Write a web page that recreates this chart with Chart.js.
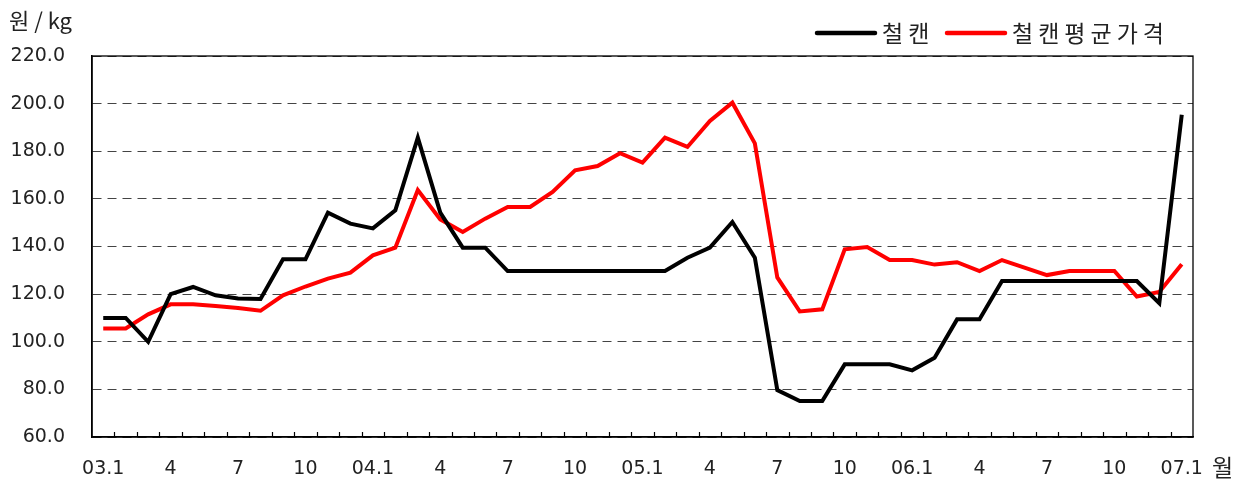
<!DOCTYPE html>
<html>
<head>
<meta charset="utf-8">
<script src="https://cdn.jsdelivr.net/npm/chart.js@4"></script>
<style>
  html, body { margin: 0; padding: 0; background: #fff; }
  #wrap { width: 1245px; height: 483px; }
</style>
</head>
<body>
<div id="wrap"><canvas id="canChart" width="1245" height="483"></canvas></div>
<script>
// months 2003.1 ~ 2007.1
const months = [
  '03.1','03.2','03.3','03.4','03.5','03.6','03.7','03.8','03.9','03.10','03.11','03.12',
  '04.1','04.2','04.3','04.4','04.5','04.6','04.7','04.8','04.9','04.10','04.11','04.12',
  '05.1','05.2','05.3','05.4','05.5','05.6','05.7','05.8','05.9','05.10','05.11','05.12',
  '06.1','06.2','06.3','06.4','06.5','06.6','06.7','06.8','06.9','06.10','06.11','06.12',
  '07.1'
];
const tickLabels = [
  '03.1','','','4','','','7','','','10','','',
  '04.1','','','4','','','7','','','10','','',
  '05.1','','','4','','','7','','','10','','',
  '06.1','','','4','','','7','','','10','','',
  '07.1'
];
const canPrice = [
  110, 110, 100, 120, 123, 119.5, 118.2, 118, 134.6, 134.6, 154.2, 149.6,
  147.6, 155.2, 185.7, 154.2, 139.5, 139.5, 129.7, 129.7, 129.7, 129.7, 129.7, 129.7,
  129.7, 129.7, 135.3, 139.5, 150.3, 135.3, 79.7, 75.1, 75.1, 90.5, 90.5, 90.5,
  88, 93.3, 109.4, 109.4, 125.5, 125.5, 125.5, 125.5, 125.5, 125.5, 125.5, 116.2,
  195.3
];
const canAvgPrice = [
  105.6, 105.6, 111.5, 115.7, 115.7, 115, 114.2, 113, 119.5, 123.2, 126.5, 129,
  136.3, 139.5, 163.7, 151.4, 146.1, 151.7, 156.6, 156.6, 162.9, 172, 173.8, 179.2,
  175.2, 185.7, 181.8, 192.7, 200.4, 183.3, 127, 112.7, 113.6, 138.8, 139.8, 134.3,
  134.3, 132.4, 133.4, 129.7, 134.3, 131.1, 128, 129.7, 129.7, 129.7, 119, 120.9,
  132.5
];
const yTicks = [60, 80, 100, 120, 140, 160, 180, 200, 220];

const KFONT = "'Noto Sans CJK KR', sans-serif";
const NFONT = "'DejaVu Sans', sans-serif";
const TXT = '#222';

// box around plot, inner x ticks, legend and unit labels
const framePlugin = {
  id: 'frame',
  afterDraw(chart) {
    const { ctx, chartArea: a, scales } = chart;
    const xs = scales.x;
    ctx.save();
    ctx.strokeStyle = '#000';
    ctx.lineWidth = 1.3;
    ctx.strokeRect(a.left, a.top, a.right - a.left, a.bottom - a.top);
    // tick marks between months, pointing up
    const step = xs.getPixelForValue(1) - xs.getPixelForValue(0);
    ctx.lineWidth = 1.2;
    ctx.beginPath();
    for (let i = 1; i < months.length; i++) {
      const px = Math.round(xs.getPixelForValue(i) - step / 2) + 0.5;
      ctx.moveTo(px, a.bottom);
      ctx.lineTo(px, a.bottom - 5);
    }
    ctx.stroke();

    // legend
    ctx.lineCap = 'round';
    ctx.lineWidth = 4.5;
    ctx.font = '23px ' + KFONT;
    ctx.letterSpacing = '5px';
    ctx.textBaseline = 'middle';
    ctx.textAlign = 'left';
    const items = [
      { x: 817, ds: chart.data.datasets[0] },
      { x: 947, ds: chart.data.datasets[1] }
    ];
    items.forEach(it => {
      ctx.strokeStyle = it.ds.borderColor;
      ctx.beginPath();
      ctx.moveTo(it.x, 33);
      ctx.lineTo(it.x + 58, 33);
      ctx.stroke();
      ctx.fillStyle = TXT;
      ctx.fillText(it.ds.label, it.x + 65, 33);
    });

    ctx.letterSpacing = '0px';
    ctx.fillStyle = TXT;
    ctx.font = '22px ' + KFONT;
    ctx.fillText('원 / kg', 9, 21);
    ctx.font = '23px ' + KFONT;
    ctx.fillText('월', 1212, 467);
    ctx.restore();
  }
};

new Chart(document.getElementById('canChart'), {
  type: 'line',
  data: {
    labels: months,
    datasets: [
      {
        label: '철캔',
        data: canPrice,
        borderColor: '#000',
        backgroundColor: '#000',
        borderWidth: 4,
        pointRadius: 0,
        tension: 0
      },
      {
        label: '철캔평균가격',
        data: canAvgPrice,
        borderColor: '#ff0000',
        backgroundColor: '#ff0000',
        borderWidth: 4,
        pointRadius: 0,
        tension: 0
      }
    ]
  },
  options: {
    responsive: false,
    animation: false,
    layout: { padding: { left: 0, right: 52, top: 56, bottom: 0 } },
    plugins: {
      legend: { display: false },
      tooltip: { enabled: false }
    },
    scales: {
      x: {
        offset: true,
        grid: { display: false, drawTicks: false },
        border: { display: true, color: '#000', width: 1.5 },
        ticks: {
          autoSkip: false,
          maxRotation: 0,
          padding: 21,
          color: TXT,
          font: { family: NFONT, size: 19 },
          callback: (v, i) => tickLabels[i]
        },
        afterFit: (s) => { s.height = 46; }
      },
      y: {
        min: 60,
        max: 220,
        afterBuildTicks: (s) => { s.ticks = yTicks.map(v => ({ value: v })); },
        grid: {
          color: '#444',
          lineWidth: 1,
          drawTicks: false
        },
        border: { display: true, color: '#000', width: 1.5, dash: [9, 6] },
        ticks: {
          padding: 27,
          color: TXT,
          font: { family: NFONT, size: 19 },
          callback: (v) => Number(v).toFixed(1)
        },
        afterFit: (s) => { s.width = 92; }
      }
    }
  },
  plugins: [framePlugin]
});
</script>
</body>
</html>
